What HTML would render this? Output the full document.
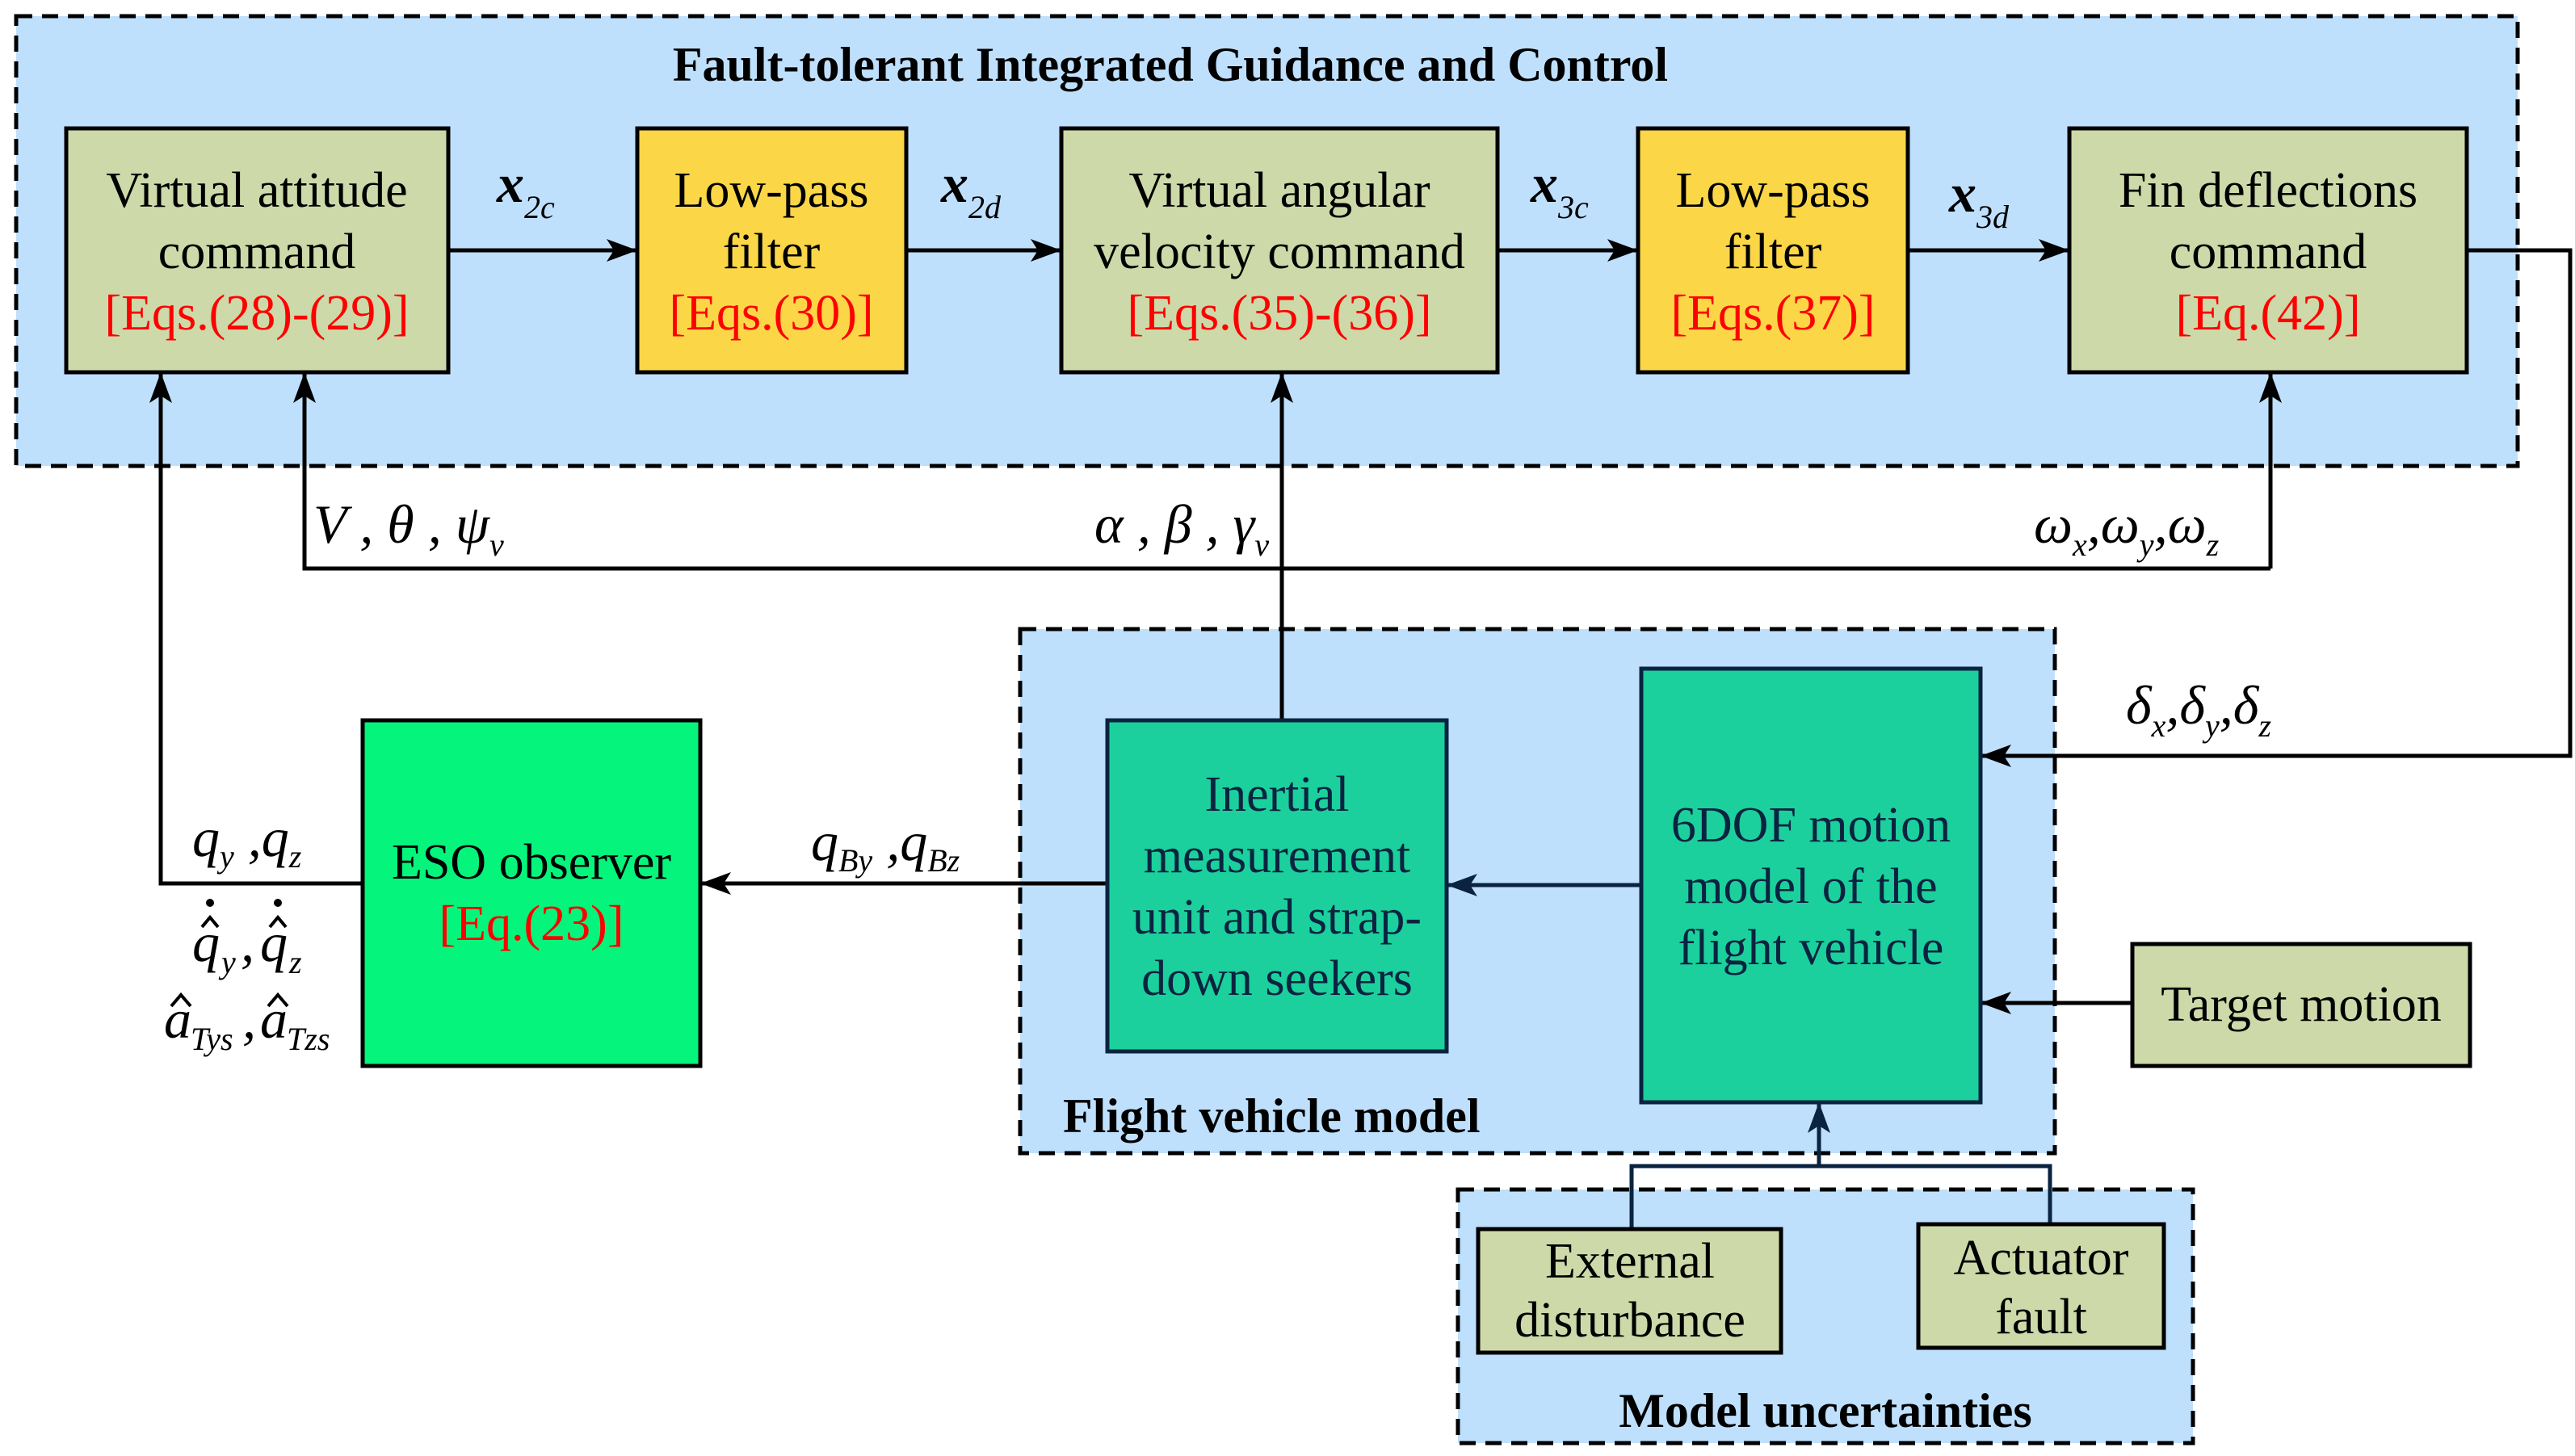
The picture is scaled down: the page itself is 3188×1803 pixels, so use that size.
<!DOCTYPE html>
<html><head><meta charset="utf-8"><style>
html,body{margin:0;padding:0;background:#fff;}
svg{display:block;}
svg text{font-family:"Liberation Serif","Times New Roman",serif;}
.t{font-size:62px;text-anchor:middle;}
.r{fill:#ff0000;}
.n{fill:#0a2340;}
.b{font-weight:bold;font-size:60px;}
.m{font-style:italic;font-size:68px;}
.s{font-style:italic;font-size:40px;}
</style></head><body>
<svg width="3188" height="1803" viewBox="0 0 3188 1803" xmlns="http://www.w3.org/2000/svg" font-family="Liberation Serif, Times New Roman, serif">
<defs>
<marker id="ah" markerWidth="40" markerHeight="28" refX="38" refY="14" orient="auto" markerUnits="userSpaceOnUse">
<path d="M0,0 L38,14 L0,28 L9,14 Z" fill="#000"/></marker>
<marker id="an" markerWidth="40" markerHeight="28" refX="38" refY="14" orient="auto" markerUnits="userSpaceOnUse">
<path d="M0,0 L38,14 L0,28 L9,14 Z" fill="#0a2340"/></marker>
</defs>
<rect x="20" y="20" width="3097" height="557" fill="#bfe0fd" stroke="#000" stroke-width="5" stroke-dasharray="20,12"/>
<rect x="1263" y="779" width="1281" height="649" fill="#bfe0fd" stroke="#000" stroke-width="5" stroke-dasharray="20,12"/>
<rect x="1805" y="1473" width="910" height="314" fill="#bfe0fd" stroke="#000" stroke-width="5" stroke-dasharray="20,12"/>
<text x="1449" y="100" class="b" text-anchor="middle">Fault-tolerant Integrated Guidance and Control</text>
<text x="1316" y="1402" class="b">Flight vehicle model</text>
<text x="2260" y="1767" class="b" text-anchor="middle">Model uncertainties</text>

<rect x="82" y="159" width="473" height="302" fill="#cdd9a9" stroke="#000" stroke-width="5"/>
<rect x="789" y="159" width="333" height="302" fill="#fbd647" stroke="#000" stroke-width="5"/>
<rect x="1314" y="159" width="540" height="302" fill="#cdd9a9" stroke="#000" stroke-width="5"/>
<rect x="2028" y="159" width="334" height="302" fill="#fbd647" stroke="#000" stroke-width="5"/>
<rect x="2562" y="159" width="492" height="302" fill="#cdd9a9" stroke="#000" stroke-width="5"/>
<text class="t" x="318" y="256">Virtual attitude</text><text class="t" x="318" y="332">command</text><text class="t r" x="318" y="408">[Eqs.(28)-(29)]</text>
<text class="t" x="955" y="256">Low-pass</text><text class="t" x="955" y="332">filter</text><text class="t r" x="955" y="408">[Eqs.(30)]</text>
<text class="t" x="1584" y="256">Virtual angular</text><text class="t" x="1584" y="332">velocity command</text><text class="t r" x="1584" y="408">[Eqs.(35)-(36)]</text>
<text class="t" x="2195" y="256">Low-pass</text><text class="t" x="2195" y="332">filter</text><text class="t r" x="2195" y="408">[Eqs.(37)]</text>
<text class="t" x="2808" y="256">Fin deflections</text><text class="t" x="2808" y="332">command</text><text class="t r" x="2808" y="408">[Eq.(42)]</text>

<g stroke="#000" stroke-width="5" fill="none">
<line x1="555" y1="310" x2="789" y2="310" marker-end="url(#ah)"/>
<line x1="1122" y1="310" x2="1314" y2="310" marker-end="url(#ah)"/>
<line x1="1854" y1="310" x2="2028" y2="310" marker-end="url(#ah)"/>
<line x1="2362" y1="310" x2="2562" y2="310" marker-end="url(#ah)"/>
</g>
<text x="615" y="250" class="m" font-weight="bold">x<tspan class="s" font-weight="normal" dy="20">2c</tspan></text>
<text x="1165" y="250" class="m" font-weight="bold">x<tspan class="s" font-weight="normal" dy="20">2d</tspan></text>
<text x="1895" y="250" class="m" font-weight="bold">x<tspan class="s" font-weight="normal" dy="20">3c</tspan></text>
<text x="2413" y="262" class="m" font-weight="bold">x<tspan class="s" font-weight="normal" dy="20">3d</tspan></text>

<g stroke="#000" stroke-width="5" fill="none">
<polyline points="449,1094 199,1094 199,461" marker-end="url(#ah)"/>
<polyline points="2811,704 377,704 377,461" marker-end="url(#ah)"/>
<line x1="2811" y1="704" x2="2811" y2="461" marker-end="url(#ah)"/>
<polyline points="3054,310 3182,310 3182,936 2452,936" marker-end="url(#ah)"/>
<line x1="2640" y1="1242" x2="2452" y2="1242" marker-end="url(#ah)"/>
<line x1="1371" y1="1094" x2="867" y2="1094" marker-end="url(#ah)"/>
<line x1="1587" y1="892" x2="1587" y2="461" marker-end="url(#ah)"/>
</g>
<g stroke="#0a2340" stroke-width="5" fill="none">
<line x1="2032" y1="1096" x2="1791" y2="1096" marker-end="url(#an)"/>
<polyline points="2020,1522 2020,1444 2538,1444 2538,1516"/>
<line x1="2252" y1="1444" x2="2252" y2="1365" marker-end="url(#an)"/>
</g>

<text x="388" y="672" class="m">V , θ , ψ<tspan class="s" dy="16">v</tspan></text>
<text x="1355" y="672" class="m">α , β , γ<tspan class="s" dy="16">v</tspan></text>
<text x="2518" y="672" class="m">ω<tspan class="s" dy="16">x</tspan><tspan dy="-16">,</tspan>ω<tspan class="s" dy="16">y</tspan><tspan dy="-16">,</tspan>ω<tspan class="s" dy="16">z</tspan></text>
<text x="2632" y="896" class="m">δ<tspan class="s" dy="16">x</tspan><tspan dy="-16">,</tspan>δ<tspan class="s" dy="16">y</tspan><tspan dy="-16">,</tspan>δ<tspan class="s" dy="16">z</tspan></text>
<text x="1004" y="1065" class="m">q<tspan class="s" dy="14">By</tspan><tspan dy="-14"> ,</tspan>q<tspan class="s" dy="14">Bz</tspan></text>
<text x="238" y="1060" class="m">q<tspan class="s" dy="14">y</tspan><tspan dy="-14"> ,</tspan>q<tspan class="s" dy="14">z</tspan></text>

<text x="238" y="1190" class="m">q</text><text x="274" y="1205" class="s">y</text><text x="298" y="1190" class="m">,</text><text x="322" y="1190" class="m">q</text><text x="358" y="1205" class="s">z</text>
<g stroke="#000" stroke-width="4" fill="none">
<polyline points="250,1148 260,1136 270,1148"/><polyline points="334,1148 344,1136 354,1148"/>
<polyline points="212,1246 224,1232 236,1246"/><polyline points="332,1246 344,1232 356,1246"/>
</g>
<circle cx="260" cy="1118" r="5"/><circle cx="344" cy="1118" r="5"/>
<text x="203" y="1285" class="m">a</text><text x="236" y="1300" class="s">Tys</text><text x="300" y="1285" class="m">,</text><text x="322" y="1285" class="m">a</text><text x="355" y="1300" class="s">Tzs</text>

<rect x="449" y="892" width="418" height="428" fill="#05f47c" stroke="#000" stroke-width="5"/>
<text class="t" x="658" y="1088">ESO observer</text><text class="t r" x="658" y="1164">[Eq.(23)]</text>
<rect x="1371" y="892" width="420" height="410" fill="#1bd09c" stroke="#0a2340" stroke-width="5"/>
<text class="t n" x="1581" y="1004">Inertial</text><text class="t n" x="1581" y="1080">measurement</text><text class="t n" x="1581" y="1156">unit and strap-</text><text class="t n" x="1581" y="1232">down seekers</text>
<rect x="2032" y="828" width="420" height="537" fill="#1bd09c" stroke="#0a2340" stroke-width="5"/>
<text class="t n" x="2242" y="1042">6DOF motion</text><text class="t n" x="2242" y="1118">model of the</text><text class="t n" x="2242" y="1194">flight vehicle</text>
<rect x="2640" y="1169" width="418" height="151" fill="#cdd9a9" stroke="#000" stroke-width="5"/>
<text class="t" x="2849" y="1264">Target motion</text>
<rect x="1830" y="1522" width="375" height="153" fill="#cdd9a9" stroke="#000" stroke-width="5"/>
<text class="t" x="2018" y="1582">External</text><text class="t" x="2018" y="1655">disturbance</text>
<rect x="2375" y="1516" width="304" height="153" fill="#cdd9a9" stroke="#000" stroke-width="5"/>
<text class="t" x="2527" y="1578">Actuator</text><text class="t" x="2527" y="1651">fault</text>
</svg>
</body></html>
